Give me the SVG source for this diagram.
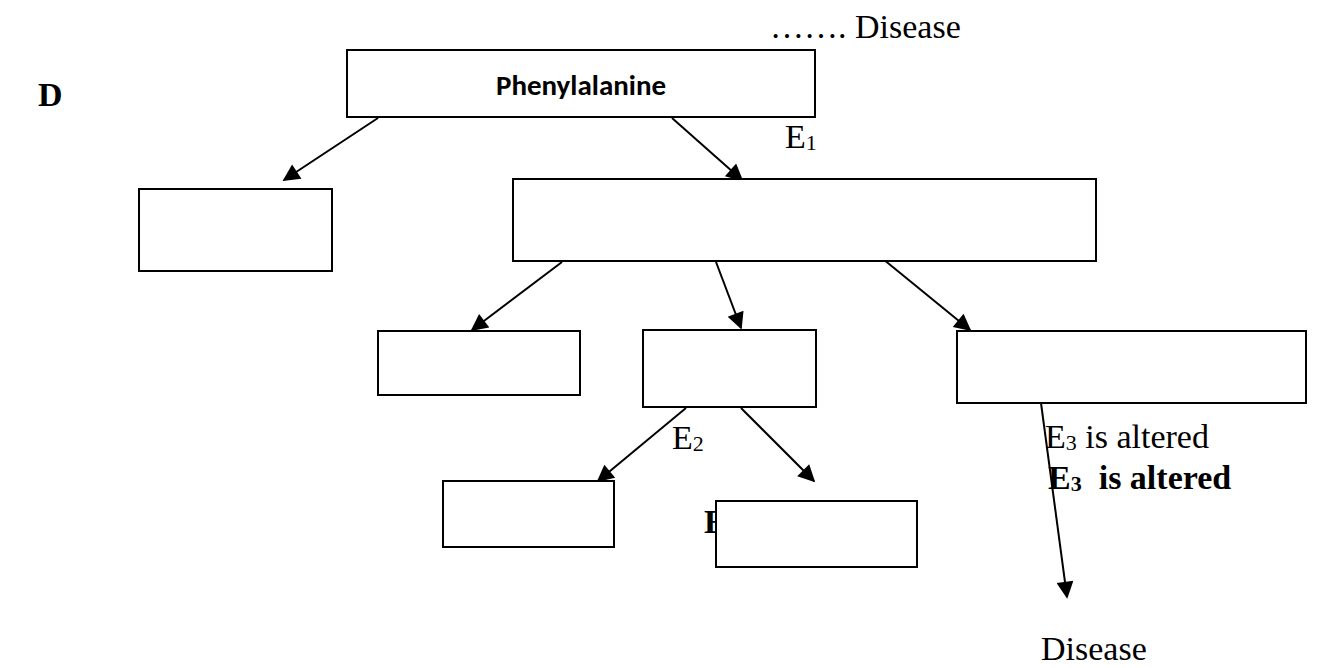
<svg xmlns="http://www.w3.org/2000/svg" width="1327" height="668" viewBox="0 0 1327 668">
  <style>
    .box { fill: #ffffff; stroke: #000000; stroke-width: 2; }
    .link { stroke: #000000; stroke-width: 2; fill: none; }
    .serif { font-family: "Liberation Serif", "Times New Roman", serif; font-size: 34px; fill: #000000; }
    .bold { font-weight: bold; }
    .pre { white-space: pre; }
    .sub { font-size: 22px; }
    .sans { font-family: Carlito, "Liberation Sans", Arial, sans-serif; font-size: 29px; font-weight: bold; fill: #000000; }
  </style>
  <defs>
    <marker id="arrow" viewBox="0 0 10 10" refX="9" refY="5" markerWidth="22" markerHeight="17" markerUnits="userSpaceOnUse" orient="auto">
      <path d="M0,0 L10,5 L0,10 z" fill="#000000"/>
    </marker>
  </defs>
  <rect width="1327" height="668" fill="#ffffff"/>

  <!-- free labels -->
  <text class="serif" x="770" y="38">……. Disease</text>
  <text class="serif bold" x="38" y="106">D</text>
  <text class="serif bold" x="704" y="533">E</text>

  <!-- connectors -->
  <g id="connectors">
    <line class="link" x1="378" y1="118" x2="284" y2="180" marker-end="url(#arrow)"/>
    <line class="link" x1="672" y1="118" x2="742" y2="180" marker-end="url(#arrow)"/>
    <line class="link" x1="562" y1="262" x2="472" y2="330" marker-end="url(#arrow)"/>
    <line class="link" x1="716" y1="262" x2="741" y2="328" marker-end="url(#arrow)"/>
    <line class="link" x1="883" y1="259" x2="970" y2="330" marker-end="url(#arrow)"/>
    <line class="link" x1="686" y1="408" x2="598" y2="481" marker-end="url(#arrow)"/>
    <line class="link" x1="741" y1="408" x2="814" y2="481" marker-end="url(#arrow)"/>
    <line class="link" x1="1041" y1="403" x2="1067" y2="597" marker-end="url(#arrow)"/>
  </g>

  <!-- nodes -->
  <g id="phenylalanine">
    <rect class="box" x="347" y="50" width="468" height="67"/>
    <text class="sans" x="581" y="95" text-anchor="middle">Phenylalanine</text>
  </g>
  <g id="node-left">
    <rect class="box" x="139" y="189" width="193" height="82"/>
  </g>
  <g id="node-main">
    <rect class="box" x="513" y="179" width="583" height="82"/>
  </g>
  <g id="node-a">
    <rect class="box" x="378" y="331" width="202" height="64"/>
  </g>
  <g id="node-b">
    <rect class="box" x="643" y="330" width="173" height="77"/>
  </g>
  <g id="node-c">
    <rect class="box" x="957" y="331" width="349" height="72"/>
  </g>
  <g id="node-d">
    <rect class="box" x="443" y="481" width="171" height="66"/>
  </g>
  <g id="node-e">
    <rect class="box" x="716" y="501" width="201" height="66"/>
  </g>

  <!-- enzyme labels -->
  <text class="serif" x="785" y="148">E<tspan class="sub" dy="2">1</tspan></text>
  <text class="serif" x="672" y="449">E<tspan class="sub" dy="2">2</tspan></text>
  <text class="serif" x="1045" y="448">E<tspan class="sub" dy="2">3</tspan><tspan dy="-2"> is altered</tspan></text>
  <text class="serif bold pre" x="1048" y="489">E<tspan class="sub" dy="2">3</tspan><tspan dy="-2">  is altered</tspan></text>
  <text class="serif" x="1041" y="660">Disease</text>
</svg>
